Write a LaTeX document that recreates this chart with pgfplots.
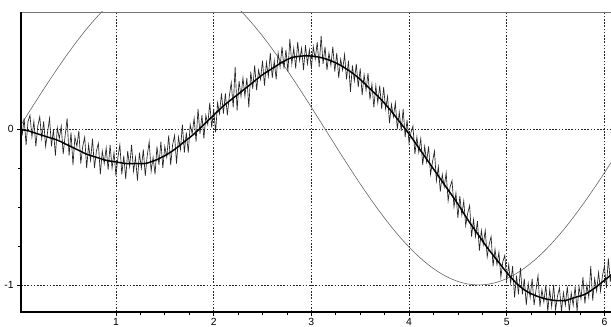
\documentclass[border=0pt]{standalone}
\usepackage{fontspec}
\setmainfont{Liberation Sans}
\usepackage{pgfplots}
\pgfplotsset{compat=1.18}
\begin{document}
\begin{tikzpicture}
\begin{axis}[
  name=ax,
  scale only axis,
  width=444.9pt, height=224.9pt,
  xmin=0.028, xmax=6.10,
  ymin=-1.173, ymax=0.753,
  xtick={1,2,3,4,5,6},
  ytick={-1,0},
  minor tick num=3,
  tick align=outside,
  major tick length=3pt,
  minor tick length=2.2pt,
  xtick pos=bottom, ytick pos=left,
  tick style={black, line width=0.5pt},
  grid=major,
  major grid style={black!85, line width=0.5pt, dash pattern=on 1.2pt off 1.2pt},
  axis line style={draw=none},
  clip mode=individual,
  ticklabel style={font=\fontsize{7.8}{9}\selectfont},
  /pgf/number format/assume math mode=true,
  xticklabel style={yshift=1.5pt},
  yticklabel style={xshift=1pt},
]
% thin sine-like reference line
\addplot[black!60, line width=0.45pt, smooth] table {
0.0 0.0000
0.1 0.0998
0.2 0.1987
0.3 0.2955
0.4 0.3894
0.5 0.4794
0.6 0.5646
0.7 0.6442
0.8 0.7174
0.9 0.7833
1.0 0.8415
1.1 0.8912
1.2 0.9320
1.3 0.9636
1.4 0.9854
1.5 0.9975
1.6 0.9996
1.7 0.9917
1.8 0.9738
1.9 0.9463
2.0 0.9093
2.1 0.8632
2.2 0.8085
2.3 0.7457
2.4 0.6755
2.5 0.5985
2.6 0.5155
2.7 0.4274
2.8 0.3350
2.9 0.2392
3.0 0.1411
3.1 0.0416
3.2 -0.0584
3.3 -0.1577
3.4 -0.2555
3.5 -0.3508
3.6 -0.4425
3.7 -0.5298
3.8 -0.6119
3.9 -0.6878
4.0 -0.7568
4.1 -0.8183
4.2 -0.8716
4.3 -0.9162
4.4 -0.9516
4.5 -0.9775
4.6 -0.9937
4.7 -0.9999
4.8 -0.9962
4.9 -0.9825
5.0 -0.9589
5.1 -0.9258
5.2 -0.8835
5.3 -0.8323
5.4 -0.7728
5.5 -0.7055
5.6 -0.6313
5.7 -0.5507
5.8 -0.4646
5.9 -0.3739
6.0 -0.2794
6.1 -0.1822
};
% noisy measured series
\addplot[black!85, line width=0.5pt] table {
0.00 0.03
0.02 0.12
0.04 -0.04
0.06 0.07
0.08 -0.10
0.10 0.05
0.12 0.09
0.14 -0.05
0.16 0.05
0.18 -0.11
0.20 0.02
0.22 0.08
0.24 -0.06
0.26 0.05
0.28 -0.11
0.30 -0.02
0.32 0.07
0.34 -0.11
0.36 0.00
0.38 -0.17
0.40 0.01
0.42 -0.06
0.44 0.02
0.46 -0.16
0.48 -0.04
0.50 0.07
0.52 -0.17
0.54 -0.02
0.56 -0.23
0.58 -0.05
0.60 -0.11
0.62 -0.01
0.64 -0.22
0.66 -0.11
0.68 -0.05
0.70 -0.25
0.72 -0.10
0.74 -0.20
0.76 -0.06
0.78 -0.25
0.80 -0.14
0.82 -0.09
0.84 -0.29
0.86 -0.14
0.88 -0.22
0.90 -0.12
0.92 -0.26
0.94 -0.10
0.96 -0.25
0.98 -0.15
1.00 -0.30
1.02 -0.18
1.04 -0.10
1.06 -0.29
1.08 -0.17
1.10 -0.32
1.12 -0.14
1.14 -0.24
1.16 -0.10
1.18 -0.27
1.20 -0.18
1.22 -0.33
1.24 -0.15
1.26 -0.25
1.28 -0.13
1.30 -0.30
1.32 -0.17
1.34 -0.08
1.36 -0.27
1.38 -0.18
1.40 -0.29
1.42 -0.11
1.44 -0.23
1.46 -0.08
1.48 -0.25
1.50 -0.11
1.52 -0.18
1.54 -0.04
1.56 -0.23
1.58 -0.10
1.60 -0.04
1.62 -0.22
1.64 -0.05
1.66 -0.13
1.68 0.03
1.70 -0.15
1.72 -0.02
1.74 -0.15
1.76 0.03
1.78 -0.03
1.80 0.07
1.82 -0.08
1.84 0.13
1.86 -0.03
1.88 0.09
1.90 -0.06
1.92 0.09
1.94 0.03
1.96 0.17
1.98 0.01
2.00 0.13
2.02 -0.02
2.04 0.17
2.06 0.10
2.08 0.23
2.10 0.10
2.12 0.23
2.14 0.09
2.16 0.21
2.18 0.30
2.20 0.14
2.22 0.40
2.24 0.12
2.26 0.31
2.28 0.21
2.30 0.33
2.32 0.21
2.34 0.33
2.36 0.14
2.38 0.37
2.40 0.26
2.42 0.41
2.44 0.25
2.46 0.38
2.48 0.32
2.50 0.44
2.52 0.28
2.54 0.43
2.56 0.34
2.58 0.49
2.60 0.33
2.62 0.44
2.64 0.32
2.66 0.49
2.68 0.40
2.70 0.53
2.72 0.39
2.74 0.51
2.76 0.37
2.78 0.58
2.80 0.42
2.82 0.52
2.84 0.39
2.86 0.56
2.88 0.44
2.90 0.52
2.92 0.38
2.94 0.54
2.96 0.42
2.98 0.51
3.00 0.39
3.02 0.53
3.04 0.45
3.06 0.56
3.08 0.40
3.10 0.60
3.12 0.42
3.14 0.53
3.16 0.38
3.18 0.49
3.20 0.41
3.22 0.53
3.24 0.37
3.26 0.49
3.28 0.33
3.30 0.45
3.32 0.38
3.34 0.48
3.36 0.32
3.38 0.44
3.40 0.24
3.42 0.41
3.44 0.31
3.46 0.42
3.48 0.27
3.50 0.39
3.52 0.22
3.54 0.35
3.56 0.25
3.58 0.36
3.60 0.19
3.62 0.29
3.64 0.14
3.66 0.28
3.68 0.17
3.70 0.28
3.72 0.13
3.74 0.27
3.76 0.13
3.78 0.21
3.80 0.04
3.82 0.16
3.84 0.08
3.86 0.17
3.88 0.00
3.90 0.11
3.92 -0.01
3.94 0.13
3.96 -0.05
3.98 0.06
4.00 -0.09
4.02 -0.02
4.04 0.02
4.06 -0.16
4.08 -0.05
4.10 -0.15
4.12 -0.06
4.14 -0.23
4.16 -0.11
4.18 -0.21
4.20 -0.11
4.22 -0.29
4.24 -0.21
4.26 -0.14
4.28 -0.33
4.30 -0.24
4.32 -0.40
4.34 -0.29
4.36 -0.37
4.38 -0.28
4.40 -0.46
4.42 -0.37
4.44 -0.33
4.46 -0.50
4.48 -0.41
4.50 -0.57
4.52 -0.43
4.54 -0.55
4.56 -0.46
4.58 -0.62
4.60 -0.54
4.62 -0.49
4.64 -0.69
4.66 -0.58
4.68 -0.69
4.70 -0.59
4.72 -0.78
4.74 -0.65
4.76 -0.74
4.78 -0.65
4.80 -0.82
4.82 -0.74
4.84 -0.69
4.86 -0.88
4.88 -0.77
4.90 -0.87
4.92 -0.79
4.94 -0.95
4.96 -0.85
4.98 -0.81
5.00 -0.97
5.02 -0.87
5.04 -0.99
5.06 -0.88
5.08 -1.08
5.10 -0.94
5.12 -1.06
5.14 -0.89
5.16 -1.06
5.18 -0.96
5.20 -1.13
5.22 -0.99
5.24 -1.08
5.26 -0.96
5.28 -1.13
5.30 -1.03
5.32 -0.94
5.34 -1.14
5.36 -1.03
5.38 -1.11
5.40 -1.00
5.42 -1.17
5.44 -1.03
5.46 -1.14
5.48 -1.00
5.50 -1.16
5.52 -1.07
5.54 -1.02
5.56 -1.17
5.58 -1.05
5.60 -1.13
5.62 -1.01
5.64 -1.17
5.66 -1.05
5.68 -1.13
5.70 -1.01
5.72 -1.17
5.74 -1.01
5.76 -1.09
5.78 -0.95
5.80 -1.12
5.82 -1.00
5.84 -1.08
5.86 -0.88
5.88 -1.10
5.90 -0.96
5.92 -1.04
5.94 -0.92
5.96 -1.04
5.98 -0.94
6.00 -0.88
6.02 -1.02
6.04 -0.83
6.06 -0.98
6.08 -0.86
6.10 -0.97
};
% smooth fitted line
\addplot[black, line width=1.1pt, smooth] table {
0.0 0.00
0.1 -0.01
0.2 -0.03
0.3 -0.05
0.4 -0.07
0.5 -0.10
0.6 -0.13
0.7 -0.16
0.8 -0.18
0.9 -0.20
1.0 -0.21
1.1 -0.22
1.2 -0.22
1.3 -0.22
1.4 -0.20
1.5 -0.17
1.6 -0.13
1.7 -0.08
1.8 -0.03
1.9 0.03
2.0 0.09
2.1 0.15
2.2 0.20
2.3 0.25
2.4 0.30
2.5 0.35
2.6 0.39
2.7 0.43
2.8 0.46
2.9 0.47
3.0 0.47
3.1 0.46
3.2 0.44
3.3 0.41
3.4 0.37
3.5 0.32
3.6 0.26
3.7 0.20
3.8 0.13
3.9 0.05
4.0 -0.03
4.1 -0.12
4.2 -0.21
4.3 -0.30
4.4 -0.39
4.5 -0.48
4.6 -0.58
4.7 -0.67
4.8 -0.76
4.9 -0.84
5.0 -0.92
5.1 -0.99
5.2 -1.04
5.3 -1.07
5.4 -1.09
5.5 -1.10
5.6 -1.10
5.7 -1.08
5.8 -1.06
5.9 -1.02
6.0 -0.97
6.1 -0.92
};
\draw[black!55, line width=0.6pt] (rel axis cs:0,1) -- (rel axis cs:1,1);
\draw[black, line width=1.1pt] (rel axis cs:0,1) -- (rel axis cs:0,0) -- (rel axis cs:1,0);
\end{axis}
\pgfresetboundingbox
\path[use as bounding box] ([shift={(-15.75pt,-11.25pt)}]ax.south west) rectangle ([shift={(442.5pt,9pt)}]ax.north west);
\end{tikzpicture}
\end{document}
